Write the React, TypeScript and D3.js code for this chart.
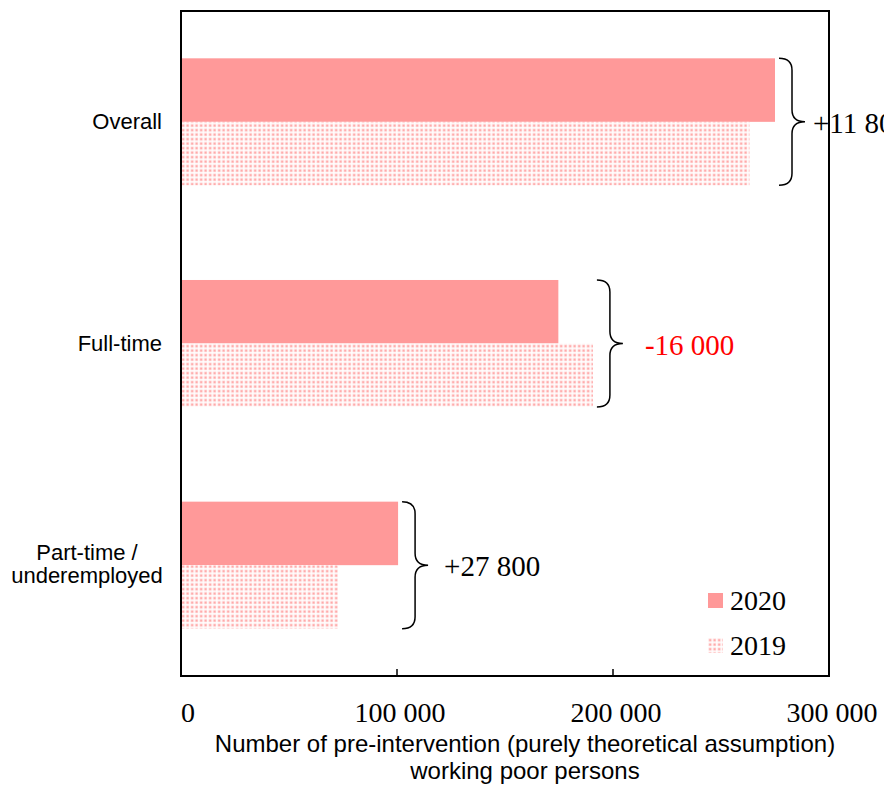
import React from "react";
import * as d3 from "d3";

// Chart data
const categories = ["Overall", "Full-time", "Part-time /\nunderemployed"];
const values2020 = [275000, 174700, 100500];
const values2019 = [263200, 190700, 72700];
const diffLabels = ["+11 800", "-16 000", "+27 800"];
const diffColors = ["#000000", "#ff0000", "#000000"];
const xTicks = [0, 100000, 200000, 300000];
const series = ["2020", "2019"];

// layout-only: gap between brace tip and its label
const labelGap = [8, 22, 16];

const width = 884;
const height = 786;
const margin = { top: 11, right: 55, bottom: 110, left: 181 };
const serif = "'Liberation Serif', 'Times New Roman', serif";
const sans = "'Liberation Sans', Arial, sans-serif";
const color2020 = "#ff9999";

const fmt = (v: number) =>
  v === 0 ? "0" : d3.format(",")(v).replace(/,/g, " ");

const bracePath = (x0: number, y0: number, y1: number) => {
  const xv = x0 + 13;
  const xt = x0 + 26;
  const ym = (y0 + y1) / 2;
  const r = 12;
  return [
    `M${x0},${y0}`,
    `Q${xv},${y0} ${xv},${y0 + r}`,
    `L${xv},${ym - r}`,
    `Q${xv},${ym} ${xt},${ym}`,
    `Q${xv},${ym} ${xv},${ym + r}`,
    `L${xv},${y1 - r}`,
    `Q${xv},${y1} ${x0},${y1}`,
  ].join(" ");
};

const App: React.FC = () => {
  const innerW = width - margin.left - margin.right;
  const innerH = height - margin.top - margin.bottom;

  const x = d3.scaleLinear().domain([0, 300000]).range([0, innerW]);
  const y = d3
    .scaleBand<string>()
    .domain(categories)
    .range([0, innerH])
    .paddingInner(0.427)
    .paddingOuter(0.2135);
  const y1 = d3.scaleBand<string>().domain(series).range([0, y.bandwidth()]);

  return (
    <svg
      width={width}
      height={height}
      style={{ position: "absolute", left: 0, top: 0, background: "#fff" }}
    >
      <defs>
        <pattern id="dots" width={4.5} height={4.5} patternUnits="userSpaceOnUse">
          <rect width={4.5} height={4.5} fill="#ffffff" />
          <rect x={0.5} y={0.5} width={3.2} height={3.2} fill="#ffdada" />
          <rect x={1.3} y={1.3} width={1.7} height={1.7} fill="#ff9a9a" />
        </pattern>
      </defs>
      <g transform={`translate(${margin.left},${margin.top})`}>
        {/* bars */}
        {categories.map((c, i) => {
          const by = y(c) || 0;
          const top = by + (y1("2020") || 0);
          const bottom = by + (y1("2019") || 0) + y1.bandwidth();
          const maxEnd = x(Math.max(values2020[i], values2019[i]));
          const x0 = maxEnd + 4;
          const tipY = (top + bottom) / 2;
          return (
            <g key={c}>
              <rect
                x={0}
                y={top}
                width={x(values2020[i])}
                height={y1.bandwidth()}
                fill={color2020}
              />
              <rect
                x={0}
                y={by + (y1("2019") || 0)}
                width={x(values2019[i])}
                height={y1.bandwidth()}
                fill="url(#dots)"
              />
              <path
                d={bracePath(x0, top, bottom)}
                fill="none"
                stroke="#000"
                strokeWidth={1.5}
              />
              <text
                x={x0 + 26 + labelGap[i]}
                y={tipY + 11}
                fontFamily={serif}
                fontSize={29}
                fill={diffColors[i]}
              >
                {diffLabels[i]}
              </text>
            </g>
          );
        })}

        {/* frame */}
        <rect
          x={0}
          y={0}
          width={innerW}
          height={innerH}
          fill="none"
          stroke="#000"
          strokeWidth={2}
        />

        {/* x ticks */}
        {xTicks.map((t) => (
          <g key={t} transform={`translate(${x(t)},${innerH})`}>
            <line y1={0} y2={-7} stroke="#000" strokeWidth={1.5} />
            <text
              x={t === 0 ? 7 : 3}
              y={46}
              textAnchor="middle"
              fontFamily={serif}
              fontSize={28}
            >
              {fmt(t)}
            </text>
          </g>
        ))}

        {/* category labels */}
        {categories.map((c) => {
          const lines = c.split("\n");
          const cy = (y(c) || 0) + y.bandwidth() / 2;
          if (lines.length === 1) {
            return (
              <text
                key={c}
                x={-19}
                y={cy + 7}
                textAnchor="end"
                fontFamily={sans}
                fontSize={22}
              >
                {c}
              </text>
            );
          }
          return (
            <text
              key={c}
              x={-94}
              y={cy - 5}
              textAnchor="middle"
              fontFamily={sans}
              fontSize={22}
            >
              {lines.map((l, k) => (
                <tspan key={l} x={-94} dy={k === 0 ? 0 : 23}>
                  {l}
                </tspan>
              ))}
            </text>
          );
        })}

        {/* axis title */}
        <text
          x={innerW / 2 + 20}
          y={innerH + 76}
          textAnchor="middle"
          fontFamily={sans}
          fontSize={24}
        >
          <tspan x={innerW / 2 + 20}>
            Number of pre-intervention (purely theoretical assumption)
          </tspan>
          <tspan x={innerW / 2 + 20} dy={27}>
            working poor persons
          </tspan>
        </text>

        {/* legend */}
        {series.map((s, i) => (
          <g key={s} transform={`translate(${527},${582 + i * 45})`}>
            <rect
              width={15}
              height={15}
              fill={s === "2020" ? color2020 : "url(#dots)"}
            />
            <text x={22} y={17} fontFamily={serif} fontSize={28}>
              {s}
            </text>
          </g>
        ))}
      </g>
    </svg>
  );
};

export default App;
